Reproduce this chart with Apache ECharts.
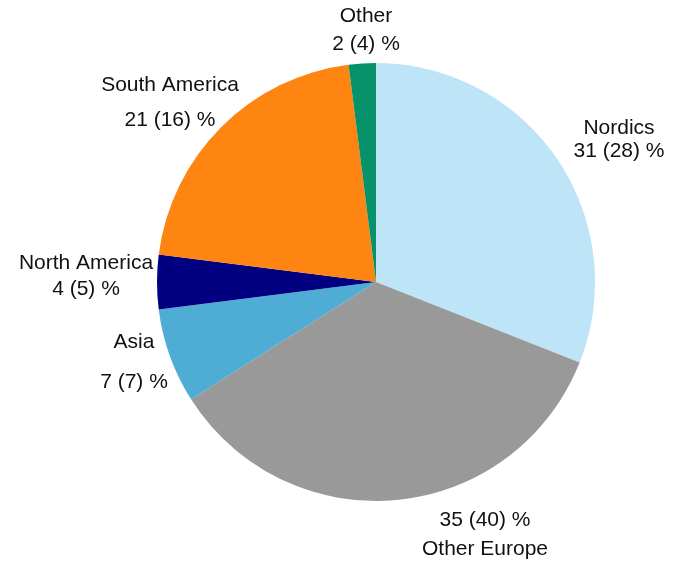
<!DOCTYPE html>
<html>
<head>
<meta charset="utf-8">
<style>
  html, body { margin: 0; padding: 0; background: #ffffff; }
  #chart { width: 684px; height: 566px; }
</style>
<script src="https://cdn.jsdelivr.net/npm/echarts@6/dist/echarts.min.js"></script>
</head>
<body>
<div id="chart"></div>
<script>
// Regions, current share (%) and previous-year share in brackets
const regions = ['Nordics', 'Other Europe', 'Asia', 'North America', 'South America', 'Other'];
const shares = [31, 35, 7, 4, 21, 2];
const previousShares = [28, 40, 7, 5, 16, 4];
const colors = ['#bde4f7', '#999999', '#4fadd5', '#000080', '#ff8512', '#08926a'];

// Label anchors (centre of each label block) and line spacing
const labelSpots = [
  { x: 619, y: 140, align: 'center', lineHeight: 23, valueFirst: false },
  { x: 485, y: 535, align: 'center', lineHeight: 29, valueFirst: true },
  { x: 134, y: 362, align: 'center', lineHeight: 40, valueFirst: false },
  { x: 86,  y: 276, align: 'center', lineHeight: 26, valueFirst: false },
  { x: 170, y: 103, align: 'center', lineHeight: 35, valueFirst: false },
  { x: 366, y: 30,  align: 'center', lineHeight: 28, valueFirst: false }
];

const chart = echarts.init(document.getElementById('chart'), null, { renderer: 'canvas' });

const data = regions.map((name, i) => ({
  name: name,
  value: shares[i],
  itemStyle: { color: colors[i] },
  label: { lineHeight: labelSpots[i].lineHeight }
}));

chart.setOption({
  animation: false,
  backgroundColor: '#ffffff',
  series: [{
    type: 'pie',
    center: [376, 282],
    radius: 219,
    startAngle: 90,
    clockwise: true,
    avoidLabelOverlap: false,
    data: data,
    itemStyle: { borderWidth: 0 },
    label: {
      show: true,
      position: 'outside',
      color: '#111111',
      fontFamily: 'Liberation Sans, Arial, sans-serif',
      fontSize: 21,
      formatter: function (p) {
        const i = p.dataIndex;
        const valueLine = shares[i] + ' (' + previousShares[i] + ') %';
        return labelSpots[i].valueFirst ? valueLine + '\n' + p.name : p.name + '\n' + valueLine;
      }
    },
    labelLine: { show: false },
    labelLayout: function (p) {
      const s = labelSpots[p.dataIndex];
      return { x: s.x, y: s.y, align: s.align, verticalAlign: 'middle' };
    },
    emphasis: { disabled: true }
  }]
});
</script>
</body>
</html>
